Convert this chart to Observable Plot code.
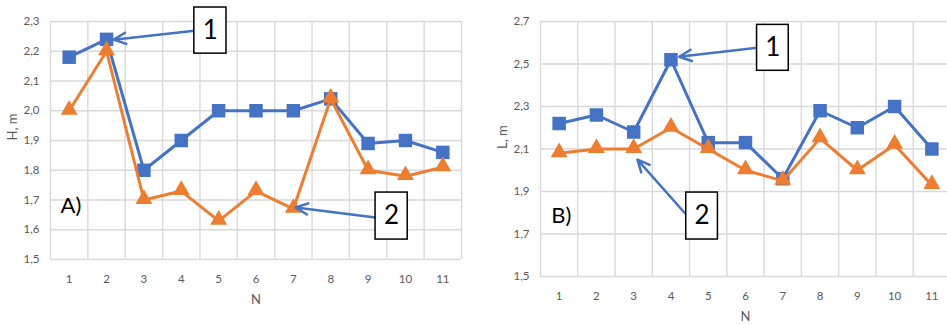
<!DOCTYPE html>
<html>
<head>
<meta charset="utf-8">
<script src="https://cdn.jsdelivr.net/npm/d3@7"></script>
<script src="https://cdn.jsdelivr.net/npm/@observablehq/plot@0.6"></script>
<style>
  html, body { margin: 0; padding: 0; background: #fff; }
  #wrap { position: relative; width: 947px; height: 325px; overflow: hidden; background: #fff; }
  .panel { position: absolute; top: 0; }
  #panelA { left: 0; }
  #panelB { left: 477px; }
</style>
</head>
<body>
<div id="wrap">
  <div class="panel" id="panelA"></div>
  <div class="panel" id="panelB"></div>
</div>
<script>
// Experiment numbers along the x axis
const N = [1, 2, 3, 4, 5, 6, 7, 8, 9, 10, 11];

// Panel A: height H, m
const hSeries1 = [2.18, 2.24, 1.80, 1.90, 2.00, 2.00, 2.00, 2.04, 1.89, 1.90, 1.86];
const hSeries2 = [2.00, 2.20, 1.70, 1.73, 1.63, 1.73, 1.67, 2.04, 1.80, 1.78, 1.81];
const hTicks = [1.5, 1.6, 1.7, 1.8, 1.9, 2.0, 2.1, 2.2, 2.3];

// Panel B: length L, m
const lSeries1 = [2.22, 2.26, 2.18, 2.52, 2.13, 2.13, 1.96, 2.28, 2.20, 2.30, 2.10];
const lSeries2 = [2.08, 2.10, 2.10, 2.20, 2.10, 2.00, 1.95, 2.15, 2.00, 2.12, 1.93];
const lTicks = [1.5, 1.7, 1.9, 2.1, 2.3, 2.5, 2.7];

// Callouts: numbered boxes with arrows pointing at the curves (data coordinates)
const hBoxes = [
  {label: "1", x1: 4.35, x2: 5.21, y1: 2.347, y2: 2.192},
  {label: "2", x1: 9.20, x2: 10.06, y1: 1.725, y2: 1.567}
];
const hArrows = [
  {x1: 4.35, y1: 2.269, x2: 2.19, y2: 2.239},
  {x1: 9.20, y1: 1.641, x2: 7.06, y2: 1.675}
];
const lBoxes = [
  {label: "1", x1: 6.31, x2: 7.16, y1: 2.684, y2: 2.468},
  {label: "2", x1: 4.41, x2: 5.26, y1: 1.895, y2: 1.674}
];
const lArrows = [
  {x1: 6.31, y1: 2.576, x2: 4.22, y2: 2.534},
  {x1: 4.43, y1: 1.787, x2: 3.10, y2: 2.05}
];

const BLUE = "#4472C4";
const ORANGE = "#ED7D31";
const GRID = "#d9d9d9";
const comma = d => d3.format(".1f")(d).replace(".", ",");

function panel({width, height, marginLeft, marginRight, marginBottom, yTicks, yLabel, s1, s2, boxes, arrows, tag, tagX, tagY}) {
  const rows1 = N.map((n, i) => ({n, v: s1[i]}));
  const rows2 = N.map((n, i) => ({n, v: s2[i]}));
  const edges = d3.range(0.5, 12, 1);
  const yMin = yTicks[0], yMax = yTicks[yTicks.length - 1];
  return Plot.plot({
    width, height,
    marginTop: 21, marginLeft, marginRight, marginBottom,
    style: {fontFamily: "Lato, 'Noto Sans', sans-serif", fontSize: "11.5px", color: "#595959", background: "#fff"},
    x: {domain: [0.5, 11.5], ticks: N, tickFormat: d => String(d), tickSize: 0, tickPadding: 15, label: null},
    y: {domain: [yMin, yMax], ticks: yTicks, tickFormat: comma, tickSize: 0, tickPadding: 11, label: null},
    marks: [
      Plot.ruleY(yTicks, {stroke: GRID, strokeWidth: 1.4}),
      Plot.ruleX(edges, {y1: yMin, y2: yMax, stroke: GRID, strokeWidth: 1.4}),
      Plot.line(rows1, {x: "n", y: "v", stroke: BLUE, strokeWidth: 3}),
      Plot.dot(rows1, {x: "n", y: "v", symbol: "square", r: 7.6, fill: BLUE, stroke: null}),
      Plot.line(rows2, {x: "n", y: "v", stroke: ORANGE, strokeWidth: 3}),
      Plot.dot(rows2, {x: "n", y: "v", symbol: "triangle", r: 6.3, fill: ORANGE, stroke: null, dy: -1}),
      Plot.arrow(arrows, {x1: "x1", y1: "y1", x2: "x2", y2: "y2", stroke: BLUE, strokeWidth: 2.5, headLength: 8, headAngle: 50}),
      Plot.rect(boxes, {x1: "x1", x2: "x2", y1: "y1", y2: "y2", fill: "white", stroke: "black", strokeWidth: 1.5}),
      Plot.text(boxes, {x: d => (d.x1 + d.x2) / 2, y: d => (d.y1 + d.y2) / 2, text: "label", fontSize: 26, fill: "black", fontFamily: "Lato, sans-serif"}),
      Plot.text([tag], {x: tagX, y: tagY, text: d => d, textAnchor: "start", fontSize: 22, fill: "black"}),
      Plot.text(["N"], {frameAnchor: "bottom", dy: 44, fontSize: 13, fill: "#595959"}),
      Plot.text([yLabel], {frameAnchor: "left", dx: -38, rotate: -90, fontSize: 13, fill: "#595959"})
    ]
  });
}

document.getElementById("panelA").append(panel({
  width: 470, height: 325, marginLeft: 50, marginRight: 9, marginBottom: 66,
  yTicks: hTicks, yLabel: "H, m", s1: hSeries1, s2: hSeries2,
  boxes: hBoxes, arrows: hArrows, tag: "A)", tagX: 0.77, tagY: 1.681
}));

document.getElementById("panelB").append(panel({
  width: 470, height: 325, marginLeft: 63, marginRight: -3, marginBottom: 49,
  yTicks: lTicks, yLabel: "L, m", s1: lSeries1, s2: lSeries2,
  boxes: lBoxes, arrows: lArrows, tag: "B)", tagX: 0.79, tagY: 1.787
}));
</script>
</body>
</html>
